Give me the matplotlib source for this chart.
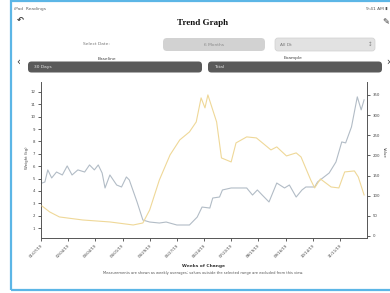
import matplotlib
matplotlib.use("Agg")
import matplotlib.pyplot as plt
from matplotlib.patches import FancyBboxPatch, Rectangle
from matplotlib.transforms import IdentityTransform

W, H = 390, 293
DPI = 100

# ---------------- data ----------------
tick_days = [0, 28, 56, 84, 112, 140, 168, 196, 224, 252, 280, 308]
tick_labels = ["01/07/19", "02/04/19", "03/04/19", "04/01/19", "04/29/19", "05/27/19",
               "06/24/19", "07/22/19", "08/19/19", "09/16/19", "10/14/19", "11/11/19"]

left_ticks = [1, 2, 3, 4, 5, 6, 7, 8, 9, 10, 11, 12]
right_ticks = [0, 50, 100, 150, 200, 250, 300, 350]

grey_days = [1, 4, 7, 11, 16, 22, 27, 32, 38, 45, 50, 55, 59, 63, 66, 71, 78, 83, 88, 91,
             99, 105, 112, 122, 129, 140, 153, 161, 166, 174, 177, 184, 187, 196, 212, 218,
             223, 228, 235, 243, 251, 256, 263, 269, 273, 282, 285, 297, 304, 310, 314, 320,
             326, 330, 333]
grey_vals = [4.64, 4.72, 5.70, 5.05, 5.53, 5.29, 6.02, 5.29, 5.70, 5.53, 6.10, 5.70, 6.10,
             5.45, 4.24, 5.29, 4.48, 4.32, 5.13, 4.89, 3.11, 1.65, 1.49, 1.41, 1.49, 1.25,
             1.25, 1.89, 2.70, 2.62, 3.43, 3.51, 4.08, 4.24, 4.24, 3.67, 4.08, 3.67, 3.11,
             4.64, 4.24, 4.48, 3.51, 4.08, 4.32, 4.32, 4.72, 5.45, 6.34, 7.96, 7.88, 9.17,
             11.60, 10.55, 11.36]

yel_days = [1, 9, 19, 43, 71, 95, 105, 112, 122, 133, 143, 153, 160, 165, 169, 172, 181,
            186, 196, 201, 212, 222, 227, 237, 243, 253, 263, 268, 278, 282, 288, 299, 307,
            313, 323, 327, 333]
yel_vals = [74.5, 59.6, 47.2, 39.7, 34.8, 27.3, 32.3, 64.5, 139.0, 201.1, 238.3, 258.2,
            283.0, 342.6, 317.8, 350.0, 283.0, 193.6, 183.7, 230.9, 245.8, 243.3, 233.4,
            213.5, 221.0, 198.6, 206.1, 196.1, 139.0, 119.2, 141.5, 121.6, 119.2, 158.9,
            161.4, 146.5, 101.8]

# ---------------- figure ----------------
fig = plt.figure(figsize=(W / DPI, H / DPI), dpi=DPI)
fig.patch.set_facecolor("white")


def fx(x):
    return x / W


def fy(y):
    return 1 - y / H


def ftext(x, y, s, **kw):
    fig.text(fx(x), fy(y), s, **kw)


def rbox(x0, y0, x1, y1, fc, ec="none", r=3, lw=0.5):
    p = FancyBboxPatch((x0, H - y1), x1 - x0, y1 - y0,
                       boxstyle=f"round,pad=0,rounding_size={r}",
                       fc=fc, ec=ec, lw=lw, transform=IdentityTransform())
    fig.add_artist(p)


# blue frame
frame = Rectangle((11, H - 290), 390, 289, fill=False, ec="#5cb6e6", lw=1.6,
                  transform=IdentityTransform())
fig.add_artist(frame)

# status bar
ftext(14, 9, "iPad  Readings", fontsize=3.2, color="#666666", va="center")
ftext(388, 9, "9:41 AM \u25ae", fontsize=3.2, color="#555555", va="center", ha="right")

# nav bar
ftext(20, 21, "\u21b6", fontsize=6, color="#333333", va="center", ha="center",
      fontweight="bold")
ftext(203, 23, "Trend Graph", fontsize=6.5, fontweight="bold", family="Liberation Serif",
      ha="center", va="center", color="#111111")
ftext(386, 22, "\u270e", fontsize=6, color="#333333", va="center", ha="center")

# selector row
ftext(96, 44, "Select Date:", fontsize=3.2, color="#777777", ha="center", va="center")
rbox(163, 38, 265, 51, "#d2d2d2", r=4)
ftext(214, 44.5, "6 Months", fontsize=3.2, color="#8a8a8a", ha="center", va="center")
rbox(275, 38, 375, 51, "#e2e2e2", ec="#cfcfcf", r=3)
ftext(280, 44.5, "All Dt", fontsize=3.2, color="#777777", ha="left", va="center")
ftext(370, 44.5, "\u2195", fontsize=4, color="#888888", ha="center", va="center")

# baseline / example row
ftext(18, 62, "\u2039", fontsize=7, color="#333333", ha="center", va="center")
ftext(388, 62, "\u203a", fontsize=7, color="#333333", ha="center", va="center")
ftext(107, 58.5, "Baseline", fontsize=3.2, color="#444444", ha="center", va="center")
ftext(293, 58.5, "Example", fontsize=3.2, color="#444444", ha="center", va="center")
rbox(28, 61.5, 202, 72.5, "#5a5a5a", r=3.5)
rbox(208, 61.5, 382, 72.5, "#5a5a5a", r=3.5)
ftext(34, 67, "30 Days", fontsize=3.2, color="#e8e8e8", ha="left", va="center")
ftext(214, 67, "Total", fontsize=3.2, color="#e8e8e8", ha="left", va="center")

# ---------------- chart ----------------
ax = fig.add_axes([fx(41), fy(238), (367 - 41) / W, (238 - 82) / H])
ax2 = ax.twinx()

ax.plot(grey_days, grey_vals, color="#b2bcc6", lw=0.8)
ax2.plot(yel_days, yel_vals, color="#efd898", lw=0.8)

ax.set_xlim(0, 336)
ax.set_ylim(0.2, 12.8)
ax2.set_ylim(-5, 382)

ax.set_xticks(tick_days)
ax.set_xticklabels(tick_labels, rotation=45, ha="right", va="top", rotation_mode="anchor")
ax.set_yticks(left_ticks)
ax2.set_yticks(right_ticks)

for a in (ax, ax2):
    a.set_facecolor("none")
    a.tick_params(labelsize=2.8, length=2.5, width=0.6, colors="#444444", pad=1.5)
    for s in a.spines.values():
        s.set_color("#555555")
        s.set_linewidth(0.7)
    a.spines["top"].set_visible(False)
ax.spines["right"].set_visible(False)
ax2.spines["left"].set_visible(False)
ax2.spines["bottom"].set_visible(False)

ftext(27, 158, "Weight (kg)", fontsize=2.8, color="#444444", rotation=90,
      ha="center", va="center")
ftext(384, 152, "Value", fontsize=2.8, color="#444444", rotation=270,
      ha="center", va="center")

ftext(203, 266, "Weeks of Change", fontsize=3.2, fontweight="bold", color="#333333",
      ha="center", va="center")
ftext(203, 273, "Measurements are shown as weekly averages; values outside the selected "
      "range are excluded from this view.", fontsize=2.6, color="#555555",
      ha="center", va="center")

fig.savefig("out.png", dpi=DPI, facecolor="white")
